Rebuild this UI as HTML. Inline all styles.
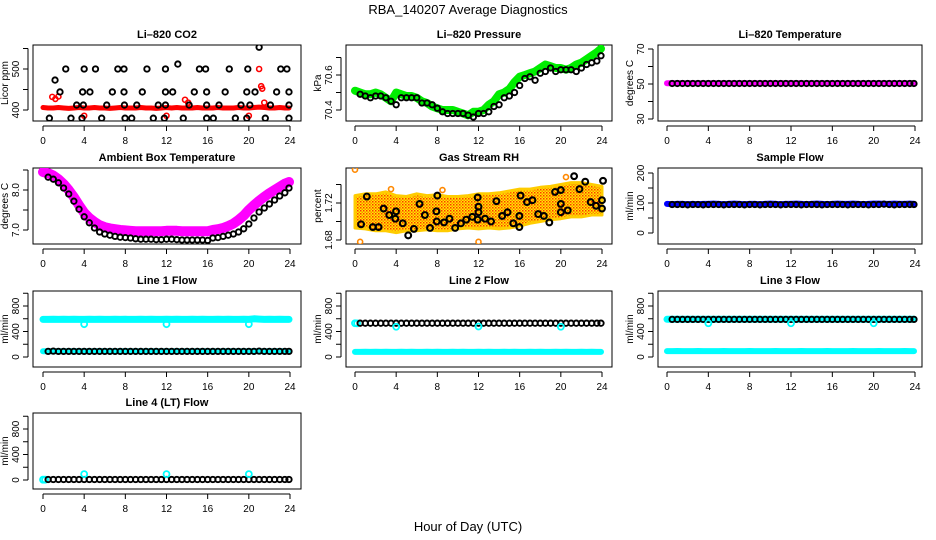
<!DOCTYPE html>
<html><head><meta charset="utf-8">
<style>
html,body{margin:0;padding:0;background:#fff;}
svg{display:block;font-family:"Liberation Sans",Arial,sans-serif;}
</style></head>
<body>
<svg id="chart" width="936" height="540" viewBox="0 0 936 540">
<text x="468" y="14" text-anchor="middle" font-size="13">RBA_140207  Average Diagnostics</text>
<text x="468" y="531" text-anchor="middle" font-size="13">Hour of Day (UTC)</text>
</svg>
<script>
const hours = [0,0.5,1,1.5,2,2.5,3,3.5,4,4.5,5,5.5,6,6.5,7,7.5,8,8.5,9,9.5,10,10.5,11,11.5,12,12.5,13,13.5,14,14.5,15,15.5,16,16.5,17,17.5,18,18.5,19,19.5,20,20.5,21,21.5,22,22.5,23,23.5,23.9];
const hoursB = [0.5,1,1.5,2,2.5,3,3.5,4,4.5,5,5.5,6,6.5,7,7.5,8,8.5,9,9.5,10,10.5,11,11.5,12,12.5,13,13.5,14,14.5,15,15.5,16,16.5,17,17.5,18,18.5,19,19.5,20,20.5,21,21.5,22,22.5,23,23.5,23.9];
const xTicks = [0,4,8,12,16,20,24];

// CO2
const co2Red = [406,405,405,406,405,404,405,406,405,405,406,405,405,404,405,406,405,405,405,406,405,405,404,405,406,405,406,405,405,405,406,405,405,405,406,405,405,405,406,405,405,406,407,406,405,405,406,405,405];
const co2RedOutX = [0.9,1.2,1.5,4.0,12.0,13.8,14.1,20.0,21.0,21.2,21.3,21.5];
const co2RedOutY = [432,427,433,386,386,425,418,386,500,458,452,418];
const co2BlkX = [0.62,2.72,3.79,5.7,7.97,8.62,10.72,11.79,13.63,15.9,16.55,18.69,19.8,21.6,23.9,
 3.27,3.92,6.19,7.91,9.11,11.2,11.9,14.2,15.9,17.1,19.24,20.1,22.1,23.9,
 1.65,3.85,4.56,6.74,7.87,9.65,11.9,12.6,14.7,15.9,17.7,19.8,20.6,22.7,23.9,
 1.17,2.21,4.0,5.1,7.27,7.87,10.1,11.9,15.2,15.8,18.1,19.9,23.1,23.7,13.1,21.0];
const co2BlkY = [380,380,380,380,380,380,380,380,380,380,380,380,380,380,380,
 412,412,412,412,412,412,412,412,412,412,412,412,412,412,
 444,444,444,444,444,444,444,444,444,444,444,444,444,444,444,
 473,500,500,500,500,500,500,500,500,500,500,500,500,500,512,553];

// Pressure
const presGreen = [70.51,70.50,70.49,70.49,70.50,70.49,70.47,70.45,70.50,70.49,70.48,70.48,70.47,70.45,70.44,70.42,70.41,70.40,70.40,70.40,70.39,70.38,70.37,70.39,70.39,70.40,70.43,70.45,70.49,70.50,70.52,70.56,70.59,70.60,70.61,70.62,70.64,70.66,70.65,70.64,70.64,70.63,70.64,70.66,70.67,70.69,70.71,70.73,70.75];
const presBlack = [70.49,70.48,70.47,70.48,70.48,70.47,70.45,70.43,70.47,70.47,70.47,70.47,70.44,70.44,70.43,70.41,70.39,70.38,70.38,70.38,70.38,70.37,70.36,70.38,70.38,70.39,70.42,70.43,70.47,70.48,70.50,70.54,70.58,70.59,70.57,70.61,70.62,70.64,70.62,70.63,70.63,70.63,70.62,70.64,70.66,70.67,70.68,70.71];

// Li-820 temperature
const tempMag = [50.4,50.4,50.4,50.4,50.4,50.4,50.4,50.4,50.4,50.4,50.4,50.4,50.4,50.4,50.4,50.4,50.4,50.4,50.4,50.4,50.4,50.4,50.4,50.4,50.4,50.4,50.4,50.4,50.4,50.4,50.4,50.4,50.4,50.4,50.4,50.4,50.4,50.4,50.4,50.4,50.4,50.4,50.4,50.4,50.4,50.4,50.4,50.4,50.4];
const tempBlack = [50.3,50.3,50.3,50.3,50.3,50.3,50.3,50.3,50.3,50.3,50.3,50.3,50.3,50.3,50.3,50.3,50.3,50.3,50.3,50.3,50.3,50.3,50.3,50.3,50.3,50.3,50.3,50.3,50.3,50.3,50.3,50.3,50.3,50.3,50.3,50.3,50.3,50.3,50.3,50.3,50.3,50.3,50.3,50.3,50.3,50.3,50.3,50.3];

// Ambient box temperature
const ambMag = [8.45,8.42,8.36,8.27,8.15,8.0,7.82,7.62,7.43,7.3,7.2,7.12,7.07,7.04,7.02,7.0,6.99,6.98,6.97,6.97,6.97,6.97,6.97,6.97,6.98,6.98,6.98,6.97,6.97,6.97,6.97,6.97,6.97,7.0,7.02,7.05,7.1,7.16,7.25,7.36,7.5,7.62,7.73,7.83,7.92,8.0,8.08,8.16,8.2];
const ambBlack = [8.32,8.27,8.18,8.05,7.9,7.72,7.52,7.33,7.18,7.05,6.95,6.9,6.87,6.84,6.82,6.81,6.8,6.78,6.77,6.77,6.77,6.76,6.76,6.77,6.77,6.76,6.75,6.75,6.75,6.75,6.75,6.74,6.8,6.81,6.84,6.87,6.9,6.95,7.03,7.15,7.3,7.45,7.55,7.65,7.75,7.85,7.93,8.05];

// Gas stream RH
const rhBandX = [0,1,2,3,4,5,6,7,8,9,10,11,12,13,14,15,16,17,18,19,20,21,22,23,24];
const rhHigh = [1.728,1.73,1.73,1.732,1.728,1.727,1.73,1.728,1.729,1.727,1.727,1.728,1.73,1.73,1.731,1.733,1.735,1.735,1.737,1.738,1.74,1.742,1.742,1.74,1.738];
const rhLow = [1.693,1.692,1.69,1.69,1.688,1.69,1.69,1.691,1.69,1.69,1.692,1.693,1.692,1.693,1.692,1.693,1.695,1.698,1.7,1.702,1.703,1.705,1.705,1.707,1.707];
const rhOutX = [0,0.5,12,3.5,8.5,20.5];
const rhOutY = [1.756,1.678,1.678,1.735,1.734,1.748];
const rhBlkX = [0.59,1.15,1.73,2.29,2.78,3.33,3.99,3.92,4.64,5.17,5.72,6.27,6.79,7.29,7.91,8.0,7.94,8.65,9.18,9.73,10.29,10.81,11.4,11.92,11.92,12.0,12.0,12.64,13.22,13.74,14.3,14.82,15.38,15.97,15.97,16.09,16.71,17.24,17.8,18.35,18.88,19.44,20.0,20.0,20.0,20.67,21.29,21.81,22.37,22.9,23.42,24.0,24.0,24.1];
const rhBlkY = [1.697,1.727,1.694,1.694,1.714,1.707,1.711,1.703,1.698,1.685,1.692,1.719,1.707,1.693,1.711,1.728,1.700,1.699,1.703,1.693,1.698,1.702,1.705,1.726,1.702,1.716,1.710,1.703,1.700,1.722,1.706,1.710,1.698,1.694,1.706,1.728,1.721,1.723,1.708,1.706,1.699,1.732,1.710,1.719,1.734,1.712,1.749,1.735,1.743,1.721,1.717,1.723,1.714,1.744];

// Sample flow
const sampBlue = [97,96,97,97,96,97,96,97,97,98,97,96,97,98,97,96,97,97,96,97,98,97,96,97,97,98,97,96,97,98,97,96,97,98,97,97,98,97,96,97,98,98,97,97,98,97,97,98,97];
const sampBlack = [95,95,95,94,95,95,94,95,95,95,94,95,95,95,94,95,95,94,95,95,95,94,95,95,95,94,95,95,95,94,95,95,95,95,94,95,95,95,94,95,95,96,95,94,95,95,95,95];

// Line flows
const l1Cyan = [590,590,592,590,591,590,592,590,590,591,590,592,590,590,591,590,592,590,590,591,590,592,590,590,591,590,592,590,590,591,590,592,590,590,591,590,592,590,590,591,590,600,595,590,591,590,592,590,590];
const l1CyanLow = [90,90,92,90,91,90,92,90,90,91,90,92,90,90,91,90,92,90,90,91,90,92,90,90,91,90,92,90,90,91,90,92,90,90,91,90,92,90,90,91,90,92,90,90,91,90,92,90,90];
const l1Black = [88,92,88,88,88,88,88,88,88,88,88,88,88,88,88,88,88,88,88,88,88,88,88,88,88,88,88,88,88,88,88,88,88,88,88,88,88,88,88,88,88,92,88,88,88,88,88,88];
const l2Black = [530,530,530,530,530,530,530,530,530,530,530,530,530,530,530,530,530,530,530,530,530,530,530,530,530,530,530,530,530,530,530,530,530,530,530,530,530,530,530,530,530,530,530,530,530,530,530,530];
const l2Cyan = [80,80,82,80,81,80,82,80,80,81,80,82,80,80,81,80,82,80,80,81,80,82,80,80,81,80,82,80,80,81,80,82,80,80,81,80,82,80,80,81,80,82,80,80,81,80,82,80,80];
const l2CyanHi = [530,528];
const l3Cyan = [592,592,592,592,592,592,592,592,592,592,592,592,592,592,592,592,592,592,592,592,592,592,592,592,592,592,592,592,592,592,592,592,592,592,592,592,592,592,592,592,592,592,592,592,592,592,592,592,592];
const l3CyanLow = [92,92,94,92,93,92,94,92,92,93,92,94,92,92,93,92,94,92,92,93,92,94,92,92,93,92,94,92,92,93,92,94,92,92,93,92,94,92,92,93,92,94,92,92,93,92,94,92,92];
const l3Black = [590,590,590,590,590,590,590,590,590,590,590,590,590,590,590,590,590,590,590,590,590,590,590,590,590,590,590,590,590,590,590,590,590,590,590,590,590,590,590,590,590,590,590,590,590,590,590,590];
const l4Black = [8,8,8,8,8,8,8,8,8,8,8,8,8,8,8,8,8,8,8,8,8,8,8,8,8,8,8,8,8,8,8,8,8,8,8,8,8,8,8,8,8,8,8,8,8,8,8,8];
const l4Cyan = [5,5];
const outHours = [4,12,20];
const l1Out = [515,515,515];
const l2Out = [475,478,475];
const l3Out = [530,530,530];
const l4Out = [92,92,92];

const NS = "http://www.w3.org/2000/svg";
const svg = document.getElementById('chart');
function mk(tag, attrs, parent) {
  const e = document.createElementNS(NS, tag);
  for (const k in attrs) e.setAttribute(k, attrs[k]);
  (parent || svg).appendChild(e);
  return e;
}
const cols = [{l:33,r:301,x0:43,x24:290},{l:346,r:612,x0:355,x24:602},{l:658,r:922,x0:667,x24:915}];
const rows = [45,168,291,413];
const BH = 76;

function makePanel(ci, ri, name, title, ylab, v1, o1, v2, o2, ticks, labels) {
  const c = cols[ci], top = rows[ri];
  const g = mk('g', {});
  
  
  const X = h => c.x0 + h * (c.x24 - c.x0) / 24;
  const Y = v => top + o1 + (v - v1) * (o2 - o1) / (v2 - v1);
  const t = mk('text', {x:(c.l+c.r)/2, y:top-7, 'text-anchor':'middle', 'font-size':11, 'font-weight':'bold'}, g);
  t.textContent = title;
  
  
  const box = mk('rect', {x:c.l, y:top, width:c.r-c.l, height:BH, fill:'none', stroke:'#000', 'stroke-width':1}, g);
  
  
  const ax = mk('g', {}, g);
  
  
  const yb = top + BH + 5;
  mk('line', {x1:X(0), x2:X(24), y1:yb, y2:yb, stroke:'#000'}, ax);
  xTicks.forEach(h => {
    mk('line', {x1:X(h), x2:X(h), y1:yb, y2:yb+5, stroke:'#000'}, ax);
    const tl = mk('text', {x:X(h), y:yb+18, 'text-anchor':'middle', 'font-size':10}, ax);
    tl.textContent = h;
  });
  const ay = mk('g', {}, g);
  
  
  mk('line', {x1:c.l-5, x2:c.l-5, y1:Y(ticks[0]), y2:Y(ticks[ticks.length-1]), stroke:'#000'}, ay);
  ticks.forEach(v => {
    mk('line', {x1:c.l-10, x2:c.l-5, y1:Y(v), y2:Y(v), stroke:'#000'}, ay);
  });
  labels.forEach(v => {
    const yy = Y(parseFloat(v));
    const tl = mk('text', {x:c.l-14, y:yy, 'text-anchor':'middle', 'font-size':10, transform:`rotate(-90 ${c.l-14} ${yy})`}, ay);
    tl.textContent = String(v);
  });
  const yl = mk('text', {x:c.l-25, y:top+BH/2, 'text-anchor':'middle', 'font-size':10, transform:`rotate(-90 ${c.l-25} ${top+BH/2})`}, g);
  yl.textContent = ylab;
  
  
  const clipId = 'clip-' + name;
  const cp = mk('clipPath', {id:clipId}, g);
  mk('rect', {x:c.l, y:top, width:c.r-c.l, height:BH}, cp);
  const marks = mk('g', {'clip-path':`url(#${clipId})`}, g);
  
  
  return {X, Y, g: marks, name};
}
function pts(p, xs, ys, color, r, sw, label) {
  const g = mk('g', {fill:'none', stroke:color, 'stroke-width':sw}, p.g);
  
  
  for (let i = 0; i < xs.length && i < ys.length; i++) {
    mk('circle', {cx:p.X(xs[i]), cy:p.Y(ys[i]), r:r}, g);
  }
}
function band(p, xs, ys, color, w, label) {
  const d = xs.map((x, i) => (i ? 'L' : 'M') + p.X(x).toFixed(1) + ' ' + p.Y(ys[i]).toFixed(1)).join(' ');
  const e = mk('path', {d:d, fill:'none', stroke:color, 'stroke-width':w, 'stroke-linecap':'round', 'stroke-linejoin':'round'}, p.g);
  
  
}

const defs = mk('defs', {});
const pat = mk('pattern', {id:'rhpat', width:3, height:3, patternUnits:'userSpaceOnUse'}, defs);
mk('rect', {x:0, y:0, width:3, height:3, fill:'#ffee00'}, pat);
mk('rect', {x:0, y:0, width:1.5, height:1.5, fill:'#ff3300'}, pat);
mk('rect', {x:1.5, y:1.5, width:1.5, height:1.5, fill:'#ff8800'}, pat);

const BK_R = 2.7, BK_W = 1.9;

let p = makePanel(0,0,'co2','Li\u2013820 CO2','Licor ppm',400,65,500,24,[400,450,500,550],['400','500']);
band(p, hours, co2Red, '#ff0000', 5, 'red-band');
pts(p, co2RedOutX, co2RedOutY, '#ff0000', 2.5, 1.6, 'red-outliers');
pts(p, co2BlkX, co2BlkY, '#000', BK_R, BK_W, 'black-points');

p = makePanel(1,0,'pressure','Li\u2013820 Pressure','kPa',70.4,65,70.6,30,[70.4,70.5,70.6,70.7],['70.4','70.6']);
band(p, hours, presGreen, '#00ee00', 8, 'green-band');
pts(p, hoursB, presBlack, '#000', BK_R, BK_W, 'black-points');

p = makePanel(2,0,'li820-temperature','Li\u2013820 Temperature','degrees C',30,74,70,4,[30,40,50,60,70],['30','50','70']);
band(p, hours, tempMag, '#ff00ff', 6, 'magenta-band');
pts(p, hoursB, tempBlack, '#000', BK_R, BK_W, 'black-points');

p = makePanel(0,1,'ambient-temperature','Ambient Box Temperature','degrees C',7.0,62,8.0,22,[7.0,7.5,8.0,8.5],['7.0','8.0']);
band(p, hours, ambMag, '#ff00ff', 10, 'magenta-band');
pts(p, hoursB, ambBlack, '#000', BK_R, BK_W, 'black-points');

p = makePanel(1,1,'gas-stream-rh','Gas Stream RH','percent',1.68,72,1.72,35,[1.68,1.70,1.72,1.74],['1.68','1.72']);
{
  const up = rhBandX.map((x,i)=>p.X(x).toFixed(1)+','+p.Y(rhHigh[i]).toFixed(1));
  const lo = rhBandX.map((x,i)=>p.X(x).toFixed(1)+','+p.Y(rhLow[i]).toFixed(1)).reverse();
  const poly = mk('polygon', {points: up.concat(lo).join(' '), fill:'url(#rhpat)', stroke:'#ffcc00', 'stroke-width':3, 'stroke-linejoin':'round'}, p.g);
  
  
}
pts(p, rhOutX, rhOutY, '#ff8800', 2.5, 1.6, 'orange-outliers');
pts(p, rhBlkX, rhBlkY, '#000', 2.9, 2.1, 'black-points');

p = makePanel(2,1,'sample-flow','Sample Flow','ml/min',0,65,100,35,[0,50,100,150,200],['0','100','200']);
band(p, hours, sampBlue, '#0000ff', 6, 'blue-band');
pts(p, hoursB, sampBlack, '#000', BK_R, BK_W, 'black-points');

p = makePanel(0,2,'line1-flow','Line 1 Flow','ml/min',0,66,400,40.5,[0,200,400,600,800,1000],['0','400','800']);
band(p, hours, l1Cyan, '#00ffff', 7, 'cyan-band');
band(p, hours, l1CyanLow, '#00ffff', 6, 'cyan-low-band');
pts(p, hoursB, l1Black, '#000', BK_R, BK_W, 'black-points');
pts(p, outHours, l1Out, '#00ffff', 3, 1.8, 'cyan-outliers');

p = makePanel(1,2,'line2-flow','Line 2 Flow','ml/min',0,66,400,40.5,[0,200,400,600,800,1000],['0','400','800']);
band(p, hours, l2Cyan, '#00ffff', 6, 'cyan-band');
pts(p, [0,0.2], l2CyanHi, '#00ffff', 3, 1.8, 'cyan-start');
pts(p, hoursB, l2Black, '#000', BK_R, BK_W, 'black-points');
pts(p, outHours, l2Out, '#00ffff', 3, 1.8, 'cyan-outliers');

p = makePanel(2,2,'line3-flow','Line 3 Flow','ml/min',0,66,400,40.5,[0,200,400,600,800,1000],['0','400','800']);
band(p, hours, l3Cyan, '#00ffff', 7, 'cyan-band');
band(p, hours, l3CyanLow, '#00ffff', 6, 'cyan-low-band');
pts(p, hoursB, l3Black, '#000', BK_R, BK_W, 'black-points');
pts(p, outHours, l3Out, '#00ffff', 3, 1.8, 'cyan-outliers');

p = makePanel(0,3,'line4-flow','Line 4 (LT) Flow','ml/min',0,67,400,41.5,[0,200,400,600,800,1000],['0','400','800']);
pts(p, [0,0.2], l4Cyan, '#00ffff', 3, 1.8, 'cyan-start');
pts(p, hoursB, l4Black, '#000', BK_R, BK_W, 'black-points');
pts(p, outHours, l4Out, '#00ffff', 3, 1.8, 'cyan-outliers');
</script>
</body></html>
